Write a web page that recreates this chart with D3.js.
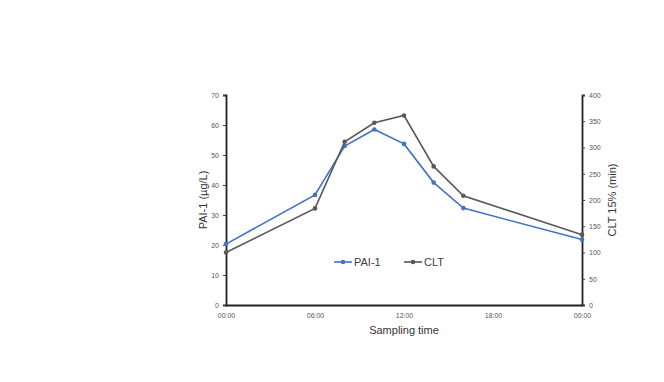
<!DOCTYPE html>
<html>
<head>
<meta charset="utf-8">
<script src="https://cdn.jsdelivr.net/npm/d3@7"></script>
<style>
body { margin: 0; background: #fff; }
text { font-family: "Liberation Sans", Arial, sans-serif; }
</style>
</head>
<body>
<svg id="svg" width="664" height="382"></svg>
<script>
// sampling hours
var hours = [0, 6, 8, 10, 12, 14, 16, 24];
var pai1 = [20.3, 36.7, 53, 58.5, 53.7, 40.8, 32.3, 21.8];
var clt = [100, 184, 311, 347, 361, 264, 208, 134];
var xTicks = [0, 6, 12, 18, 24];
var xTickLabels = ["00:00", "06:00", "12:00", "18:00", "00:00"];

var width = 664, height = 382;
var plotL = 226, plotR = 582, plotT = 95, plotB = 305;

var svg = d3.select("svg");
svg.append("rect").attr("width", width).attr("height", height).attr("fill", "#fff");

var x = d3.scaleLinear().domain([0, 24]).range([plotL, plotR]);
var yL = d3.scaleLinear().domain([0, 70]).range([plotB, plotT]);
var yR = d3.scaleLinear().domain([0, 400]).range([plotB, plotT]);

var axL = svg.append("g").attr("transform", "translate(" + plotL + ",0)")
  .call(d3.axisLeft(yL).tickValues(d3.range(0, 71, 10)).tickSize(3).tickPadding(4));
var axR = svg.append("g").attr("transform", "translate(" + plotR + ",0)")
  .call(d3.axisRight(yR).tickValues(d3.range(0, 401, 50)).tickSize(3).tickPadding(4));
var axB = svg.append("g").attr("transform", "translate(0," + plotB + ")")
  .call(d3.axisBottom(x).tickValues(xTicks).tickFormat((d, i) => xTickLabels[i]).tickSize(0).tickPadding(8));

[axL, axR, axB].forEach(a => {
  a.selectAll("text").attr("font-size", 7).attr("fill", "#555");
  a.selectAll("line").attr("stroke", "#404040");
  a.select(".domain").attr("stroke", "#222").attr("stroke-width", 1.8);
});

var line = function (ys, scale) {
  return d3.line().x((d, i) => x(hours[i])).y(d => scale(d))(ys);
};

var series = [
  { name: "PAI-1", vals: pai1, scale: yL, color: "#4472C4" },
  { name: "CLT", vals: clt, scale: yR, color: "#595959" }
];

series.forEach(s => {
  svg.append("path")
    .attr("d", line(s.vals, s.scale))
    .attr("fill", "none")
    .attr("stroke", s.color)
    .attr("stroke-width", 1.6);
  svg.selectAll(null).data(s.vals).enter().append("circle")
    .attr("cx", (d, i) => x(hours[i]))
    .attr("cy", d => s.scale(d))
    .attr("r", 2.3)
    .attr("fill", s.color);
});

// legend
var lg = [{ x: 334 }, { x: 404 }];
series.forEach((s, i) => {
  var g = svg.append("g").attr("transform", "translate(" + lg[i].x + ",262)");
  g.append("line").attr("x1", 0).attr("x2", 18).attr("stroke", s.color).attr("stroke-width", 1.6);
  g.append("circle").attr("cx", 9).attr("r", 2.3).attr("fill", s.color);
  g.append("text").attr("x", 20).attr("y", 4).attr("font-size", 11).attr("fill", "#404040").text(s.name);
});

// axis titles
svg.append("text").attr("x", 404).attr("y", 334).attr("text-anchor", "middle")
  .attr("font-size", 11).attr("fill", "#333").text("Sampling time");
svg.append("text").attr("transform", "translate(207,200) rotate(-90)").attr("text-anchor", "middle")
  .attr("font-size", 11).attr("fill", "#333").text("PAI-1 (µg/L)");
svg.append("text").attr("transform", "translate(616,200) rotate(-90)").attr("text-anchor", "middle")
  .attr("font-size", 11).attr("fill", "#333").text("CLT 15% (min)");
</script>
</body>
</html>
